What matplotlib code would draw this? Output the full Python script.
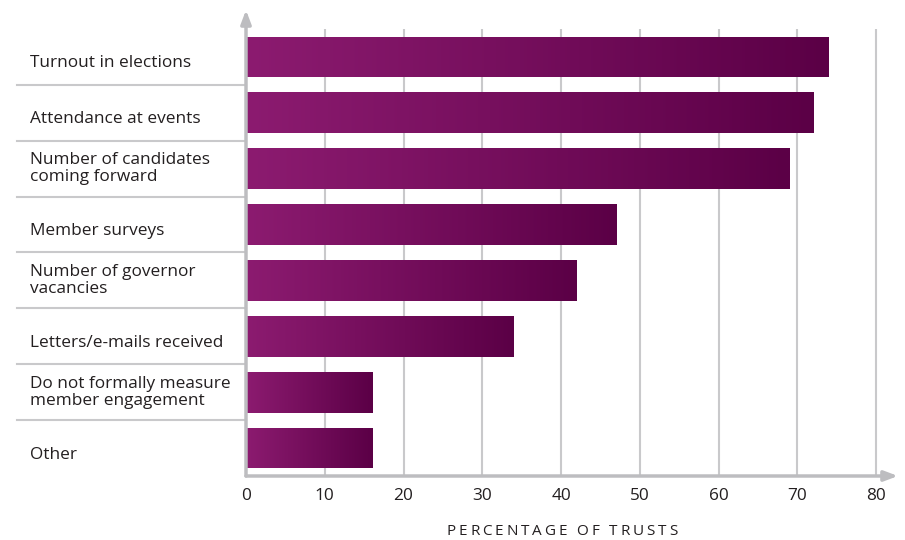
import numpy as np
import matplotlib
matplotlib.use("Agg")
import matplotlib.pyplot as plt
from matplotlib.colors import LinearSegmentedColormap

categories = [
    "Turnout in elections",
    "Attendance at events",
    "Number of candidates\ncoming forward",
    "Member surveys",
    "Number of governor\nvacancies",
    "Letters/e-mails received",
    "Do not formally measure\nmember engagement",
    "Other",
]
values = [74, 72, 69, 47, 42, 34, 16, 16]
x_ticks = [0, 10, 20, 30, 40, 50, 60, 70, 80]
x_label = "PERCENTAGE OF TRUSTS"

plt.rcParams["font.family"] = ["Open Sans", "DejaVu Sans"]

W, H = 905, 540
fig = plt.figure(figsize=(W / 100, H / 100), dpi=100)
ax_left, ax_right, ax_top, ax_bottom = 246, 898, 10, 476
ax = fig.add_axes([ax_left / W, 1 - ax_bottom / H,
                   (ax_right - ax_left) / W, (ax_bottom - ax_top) / H])

px_per_unit = 7.875
row_px = 56
xmax = (ax_right - ax_left) / px_per_unit
n = len(categories)
ytop = -0.5 - (29 - ax_top) / row_px
ax.set_xlim(0, xmax)
ax.set_ylim(n - 0.5, ytop)
ax.axis("off")

grid_col = "#c9c9cb"
axis_col = "#bdbdc0"
text_col = "#231f20"

# vertical gridlines
for t in x_ticks[1:]:
    ax.plot([t, t], [-0.5, n - 0.5], color=grid_col, lw=1.5, zorder=1,
            solid_capstyle="butt")

# gradient bars
cmap = LinearSegmentedColormap.from_list("plum", ["#8c1b70", "#5b0046"])
grad = np.linspace(0, 1, 256).reshape(1, -1)
bars = ax.barh(range(n), values, height=0.73, color="none", zorder=2)
for bar in bars:
    x0, y0 = bar.get_x(), bar.get_y()
    w, h = bar.get_width(), bar.get_height()
    im = ax.imshow(grad, extent=[x0, x0 + w, y0 + h, y0], aspect="auto",
                   cmap=cmap, zorder=2, interpolation="bilinear")
    im.set_clip_path(bar)
ax.set_xlim(0, xmax)
ax.set_ylim(n - 0.5, ytop)

# axes with arrowheads
arrow = dict(arrowstyle="-|>,head_length=0.8,head_width=0.3",
             color=axis_col, lw=2.5, shrinkA=0, shrinkB=0)
ax.annotate("", xy=(xmax, n - 0.5), xytext=(0, n - 0.5),
            arrowprops=arrow, zorder=3, annotation_clip=False)
ax.annotate("", xy=(0, ytop), xytext=(0, n - 0.5),
            arrowprops=arrow, zorder=3, annotation_clip=False)

# category labels (one Text per line) and separators on the left
label_x = -(ax_left - 30) / px_per_unit
label_fs = 12.4
line_gap = 17
for i, label in enumerate(categories):
    lines = label.split("\n")
    if len(lines) == 1:
        offsets = [10.5]
    else:
        offsets = [-4.5, -4.5 + line_gap]
    for line, off in zip(lines, offsets):
        ax.text(label_x, i + off / row_px, line, ha="left", va="baseline",
                fontsize=label_fs, color=text_col, clip_on=False)
    if i > 0:
        ax.plot([-(ax_left - 17) / px_per_unit, 0], [i - 0.5, i - 0.5],
                color=grid_col, lw=1.5, clip_on=False, zorder=1)

# tick labels
for t in x_ticks:
    ax.text(t, n - 0.5 + 24 / row_px, str(t), ha="center", va="baseline",
            fontsize=12.4, color=text_col, clip_on=False)

# axis title with letter tracking
renderer = fig.canvas.get_renderer()
title_fs = 11
tracking = 2.9  # px between letters
pieces = []
for ch in x_label:
    t = fig.text(0, 0, ch if ch != " " else "\u00a0", fontsize=title_fs,
                 color=text_col, ha="left", va="baseline")
    wpx = t.get_window_extent(renderer).width
    if ch == " ":
        wpx = title_fs * 100 / 72 * 0.26
    pieces.append((t, wpx))
total = sum(w for _, w in pieces) + tracking * (len(pieces) - 1)
xpos = 562 - total / 2
for t, wpx in pieces:
    t.set_position((xpos / W, 1 - 535 / H))
    xpos += wpx + tracking

fig.savefig("out.png", dpi=100)
